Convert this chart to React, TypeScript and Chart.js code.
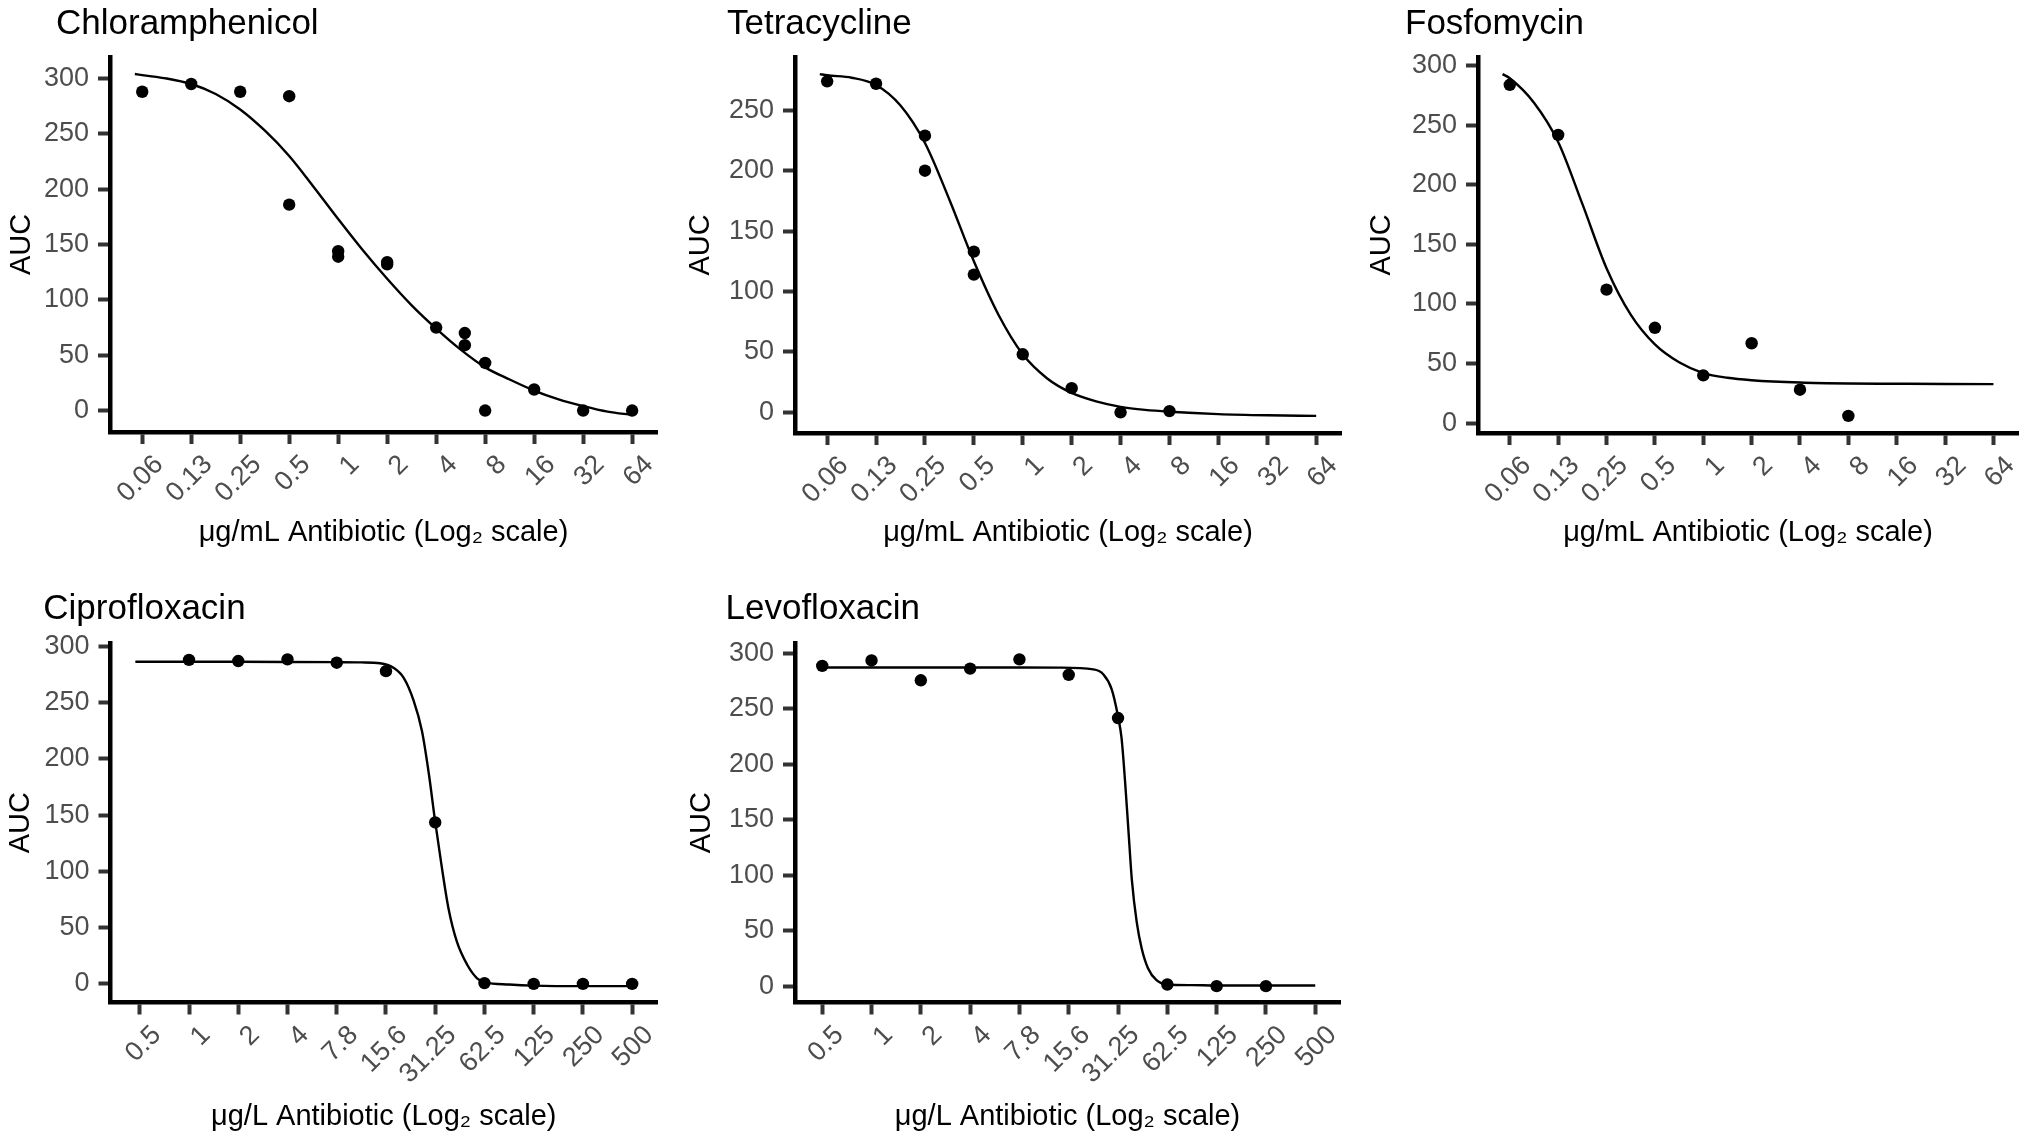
import { useEffect, useRef } from "react"
import { Chart, registerables } from "chart.js"

Chart.register(...registerables)

const FONT = "'Liberation Sans', Arial, Helvetica, sans-serif"
Chart.defaults.font.family = FONT

// two-fold dilution series, lowest dose first
const MG_ML_DOSES = [0.0625, 0.125, 0.25, 0.5, 1, 2, 4, 8, 16, 32, 64]
const MG_ML_LABELS = ["0.06", "0.13", "0.25", "0.5", "1", "2", "4", "8", "16", "32", "64"]
const UG_L_DOSES = [0.48828125, 0.9765625, 1.953125, 3.90625, 7.8125, 15.625, 31.25, 62.5, 125, 250, 500]
const UG_L_LABELS = ["0.5", "1", "2", "4", "7.8", "15.6", "31.25", "62.5", "125", "250", "500"]

const Y_TICKS_300 = [0, 50, 100, 150, 200, 250, 300]
const Y_TICKS_250 = [0, 50, 100, 150, 200, 250]

// measured wells: [dose, AUC]
const CHLOR_POINTS = [
  [0.0625, 288], [0.125, 295], [0.25, 288], [0.5, 284], [0.5, 186], [1, 144], [1, 139],
  [2, 134], [2, 132], [4, 75], [6, 70], [6, 59], [8, 43], [8, 0], [16, 19], [32, 0], [64, 0],
]
const TETRA_POINTS = [
  [0.0625, 274], [0.125, 272], [0.25, 229], [0.25, 200], [0.5, 133], [0.5, 114],
  [1, 48], [2, 20], [4, 0], [8, 1],
]
const FOSFO_POINTS = [
  [0.0625, 284], [0.125, 242], [0.25, 112], [0.5, 80], [1, 40], [2, 67], [4, 28], [8, 6],
]
const CIPRO_POINTS = [
  [0.9765625, 288], [1.953125, 287], [3.90625, 288.5], [7.8125, 285.5], [15.625, 278],
  [31.25, 143.5], [62.5, 0.7], [125, 0], [250, 0], [500, 0],
]
const LEVO_POINTS = [
  [0.48828125, 288.5], [0.9765625, 293.4], [1.953125, 275.5], [3.90625, 286], [7.8125, 294.4],
  [15.625, 280.5], [31.25, 241.5], [62.5, 1.5], [125, 0], [250, 0],
]

// fitted curves: [dilution step above lowest dose, AUC]
const CHLOR_CURVE = [
  [-0.15, 304], [0, 303], [0.5, 300], [1, 295], [1.5, 286], [2, 272], [2.5, 253], [3, 230],
  [3.5, 202], [4, 173], [4.5, 145], [5, 119], [5.5, 95], [6, 74], [6.5, 55], [7, 39],
  [7.5, 28], [8, 18], [8.5, 10], [9, 4], [9.5, -1], [10, -4],
]
const TETRA_CURVE = [
  [-0.15, 280], [0, 279], [0.5, 277], [1, 271], [1.5, 254], [2, 223], [2.5, 176], [3, 125],
  [3.5, 81], [4, 48], [4.5, 28], [5, 16], [5.5, 9], [6, 4.5], [6.5, 2], [7, 0.5], [8, -1.5],
  [9, -2.5], [10, -3],
]
const FOSFO_CURVE = [
  [-0.15, 293], [0, 289.5], [0.5, 269], [1, 236], [1.5, 184], [2, 130], [2.5, 91], [3, 66],
  [3.5, 51], [4, 42], [4.5, 38], [5, 36], [6, 34], [7, 33.2], [8, 33], [9, 32.8], [10, 32.7],
]
const CIPRO_CURVE = [
  [-0.09, 286.3], [1, 286.3], [2, 286.3], [3, 286.2], [4, 286], [4.5, 285.8], [4.88, 285],
  [5.15, 281], [5.36, 272], [5.56, 252], [5.73, 225], [5.87, 187], [6, 144], [6.14, 102],
  [6.27, 67], [6.44, 37.5], [6.65, 17], [6.85, 5], [7.02, 1.4], [7.5, -0.5], [8, -1.5],
  [9, -2], [10, -2],
]
const LEVO_CURVE = [
  [-0.05, 287], [1, 287], [2, 287], [3, 287], [4, 287], [4.82, 286.9], [5.5, 285.4],
  [5.7, 281], [5.87, 267.6], [6, 243], [6.07, 224], [6.14, 186], [6.21, 141], [6.28, 96],
  [6.38, 57.5], [6.48, 34], [6.61, 16], [6.78, 5.4], [7, 1.5], [7.5, 0.9], [8, 0.6],
  [9, 0.6], [10, 0.6],
]

const X_TITLE_MG_ML = "μg/mL Antibiotic (Log₂ scale)"
const X_TITLE_UG_L = "μg/L Antibiotic (Log₂ scale)"

type Box = {
  cx: number; cy: number; cw: number; ch: number
  L: number; T: number; R: number; B: number
  titleX: number; titleY: number; aucX: number; xTitleY: number
}

interface PanelProps {
  title: string
  xTitle: string
  doses: number[]
  labels: string[]
  yTicks: number[]
  points: number[][]
  curve: number[][]
  box: Box
}

const panelTitle = {
  id: "panelTitle",
  afterDraw(chart: Chart, _args: unknown, opts: { text: string; x: number; y: number }) {
    const ctx = chart.ctx
    ctx.save()
    ctx.font = `35px ${FONT}`
    ctx.fillStyle = "#000000"
    ctx.textAlign = "left"
    ctx.textBaseline = "alphabetic"
    ctx.fillText(opts.text, opts.x, opts.y)
    ctx.restore()
  },
}

function Panel({ title, xTitle, doses, labels, yTicks, points, curve, box }: PanelProps) {
  const chartRef = useRef<HTMLCanvasElement>(null)

  useEffect(() => {
    if (!chartRef.current) return
    const ctx = chartRef.current.getContext("2d")
    if (!ctx) return

    const pts = points.map(([d, a]) => ({ x: Math.log2(d / doses[0]), y: a }))
    const line = curve.map(([s, a]) => ({ x: s, y: a }))

    // ggplot-like 5% expansion around the data
    const xs = [...pts.map((p) => p.x), ...line.map((p) => p.x)]
    const ys = [...pts.map((p) => p.y), ...line.map((p) => p.y)]
    const xLo = Math.min(...xs), xHi = Math.max(...xs)
    const yLo = Math.min(...ys), yHi = Math.max(...ys)
    const xPad = (xHi - xLo) * 0.05
    const yPad = (yHi - yLo) * 0.05

    const yw = box.L - box.cx
    const xh = box.cy + box.ch - box.B
    const yTitlePad = box.aucX - box.cx - 14.5
    const xTitlePad = box.ch - 14.5 - (box.xTitleY - box.cy - 10)

    const tickGrid = {
      drawOnChartArea: false,
      drawTicks: true,
      tickLength: 12,
      tickWidth: 4,
      tickColor: "#333333",
    }
    const axisBorder = { display: true, color: "#000000", width: 4.5 }

    const chart = new Chart(ctx, {
      type: "scatter",
      data: {
        datasets: [
          {
            data: pts,
            pointRadius: 6.2,
            pointBackgroundColor: "#000000",
            pointBorderWidth: 0,
            showLine: false,
          },
          {
            data: line,
            showLine: true,
            borderColor: "#000000",
            borderWidth: 2.4,
            pointRadius: 0,
            cubicInterpolationMode: "monotone",
            fill: false,
          },
        ],
      },
      options: {
        animation: false,
        responsive: true,
        maintainAspectRatio: false,
        events: [],
        layout: {
          padding: { top: box.T - box.cy, right: box.cx + box.cw - box.R, left: 0, bottom: 0 },
        },
        plugins: {
          legend: { display: false },
          tooltip: { enabled: false },
          panelTitle: { text: title, x: box.titleX - box.cx, y: box.titleY - box.cy },
        } as any,
        scales: {
          x: {
            type: "linear",
            bounds: "data",
            min: xLo - xPad,
            max: xHi + xPad,
            afterBuildTicks: (s: any) => {
              s.ticks = labels.map((_l, i) => ({ value: i }))
            },
            afterFit: (s: any) => {
              s.height = xh
              s.paddingLeft = 0
              s.paddingRight = 0
            },
            ticks: {
              callback: (_v: any, i: number) => labels[i],
              autoSkip: false,
              maxRotation: 45,
              minRotation: 45,
              padding: 5,
              labelOffset: 17,
              color: "#4D4D4D",
              font: { size: 27 },
            },
            grid: tickGrid,
            border: axisBorder,
            title: {
              display: true,
              text: xTitle,
              color: "#000000",
              font: { size: 29, lineHeight: 1 },
              padding: { top: 0, bottom: xTitlePad },
            },
          },
          y: {
            type: "linear",
            bounds: "data",
            min: yLo - yPad,
            max: yHi + yPad,
            afterBuildTicks: (s: any) => {
              s.ticks = yTicks.map((v) => ({ value: v }))
            },
            afterFit: (s: any) => {
              s.width = yw
              s.paddingTop = 0
              s.paddingBottom = 0
            },
            ticks: {
              callback: (v: any) => String(v),
              padding: 9,
              color: "#4D4D4D",
              font: { size: 27 },
            },
            grid: tickGrid,
            border: axisBorder,
            title: {
              display: true,
              text: "AUC",
              color: "#000000",
              font: { size: 29, lineHeight: 1 },
              padding: { top: yTitlePad, bottom: 0 },
            },
          },
        },
      },
      plugins: [panelTitle as any],
    })

    return () => {
      chart.destroy()
    }
  }, [title, xTitle, doses, labels, yTicks, points, curve, box])

  return (
    <div
      style={{
        position: "absolute",
        left: box.cx,
        top: box.cy,
        width: box.cw,
        height: box.ch,
      }}
    >
      <canvas ref={chartRef} />
    </div>
  )
}

const BOX_CHLOR: Box = { cx: 0, cy: 0, cw: 680, ch: 570, L: 110, T: 57, R: 657, B: 432, titleX: 56, titleY: 34.3, aucX: 21.6, xTitleY: 543 }
const BOX_TETRA: Box = { cx: 684, cy: 0, cw: 680, ch: 570, L: 795, T: 57, R: 1341, B: 433, titleX: 727, titleY: 34.3, aucX: 701, xTitleY: 543 }
const BOX_FOSFO: Box = { cx: 1364, cy: 0, cw: 668, ch: 570, L: 1478, T: 57, R: 2018, B: 433, titleX: 1405, titleY: 34.3, aucX: 1382, xTitleY: 543 }
const BOX_CIPRO: Box = { cx: 0, cy: 570, cw: 680, ch: 571, L: 110.5, T: 643, R: 657, B: 1002.5, titleX: 43.3, titleY: 619.3, aucX: 20.5, xTitleY: 1126.7 }
const BOX_LEVO: Box = { cx: 684, cy: 570, cw: 680, ch: 571, L: 795, T: 643, R: 1340, B: 1002.5, titleX: 725.5, titleY: 619.3, aucX: 701.7, xTitleY: 1126.7 }

export default function App() {
  return (
    <div
      style={{
        position: "absolute",
        left: 0,
        top: 0,
        width: 2032,
        height: 1141,
        background: "#ffffff",
        overflow: "hidden",
      }}
    >
      <Panel title="Chloramphenicol" xTitle={X_TITLE_MG_ML} doses={MG_ML_DOSES} labels={MG_ML_LABELS} yTicks={Y_TICKS_300} points={CHLOR_POINTS} curve={CHLOR_CURVE} box={BOX_CHLOR} />
      <Panel title="Tetracycline" xTitle={X_TITLE_MG_ML} doses={MG_ML_DOSES} labels={MG_ML_LABELS} yTicks={Y_TICKS_250} points={TETRA_POINTS} curve={TETRA_CURVE} box={BOX_TETRA} />
      <Panel title="Fosfomycin" xTitle={X_TITLE_MG_ML} doses={MG_ML_DOSES} labels={MG_ML_LABELS} yTicks={Y_TICKS_300} points={FOSFO_POINTS} curve={FOSFO_CURVE} box={BOX_FOSFO} />
      <Panel title="Ciprofloxacin" xTitle={X_TITLE_UG_L} doses={UG_L_DOSES} labels={UG_L_LABELS} yTicks={Y_TICKS_300} points={CIPRO_POINTS} curve={CIPRO_CURVE} box={BOX_CIPRO} />
      <Panel title="Levofloxacin" xTitle={X_TITLE_UG_L} doses={UG_L_DOSES} labels={UG_L_LABELS} yTicks={Y_TICKS_300} points={LEVO_POINTS} curve={LEVO_CURVE} box={BOX_LEVO} />
    </div>
  )
}
